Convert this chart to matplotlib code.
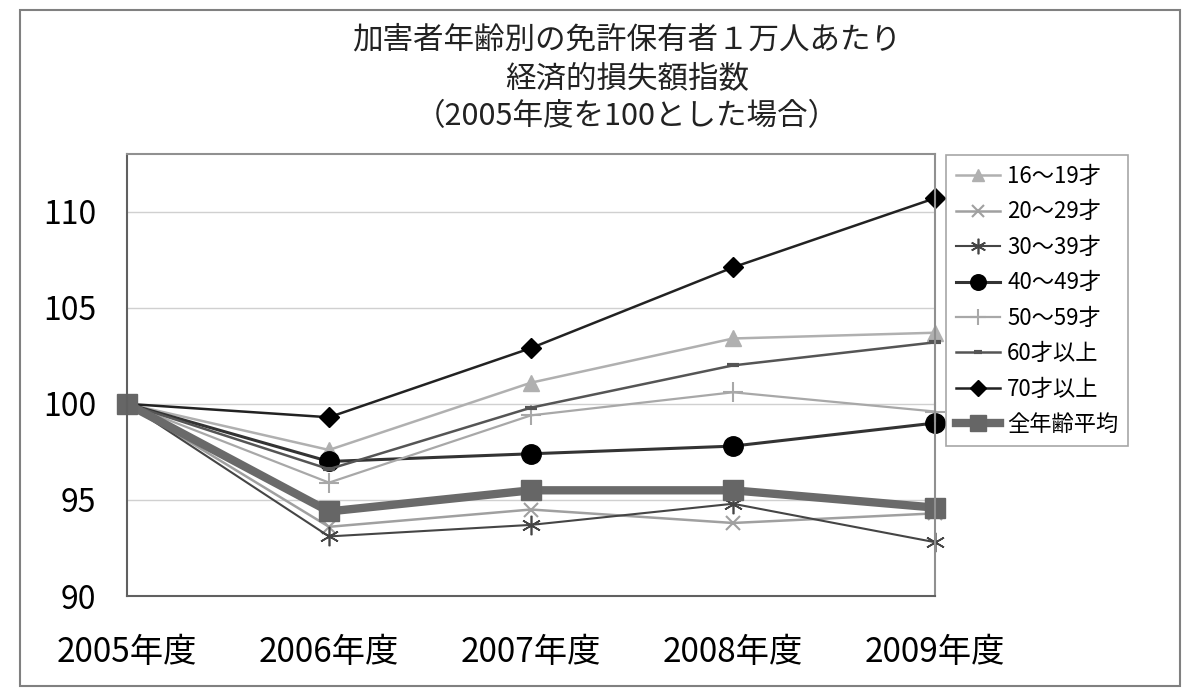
import matplotlib
matplotlib.use("Agg")
import matplotlib.pyplot as plt
from matplotlib.patches import Rectangle

plt.rcParams['font.family'] = ['Noto Sans CJK JP', 'DejaVu Sans']

years = ["2005年度", "2006年度", "2007年度", "2008年度", "2009年度"]
s16_19 = [100, 97.6, 101.1, 103.4, 103.7]
s20_29 = [100, 93.6, 94.5, 93.8, 94.3]
s30_39 = [100, 93.1, 93.7, 94.8, 92.8]
s40_49 = [100, 97.0, 97.4, 97.8, 99.0]
s50_59 = [100, 95.9, 99.4, 100.6, 99.6]
s60_up = [100, 96.6, 99.8, 102.0, 103.2]
s70_up = [100, 99.3, 102.9, 107.1, 110.7]
s_avg = [100, 94.4, 95.5, 95.5, 94.6]

labels = ["16～19才", "20～29才", "30～39才", "40～49才", "50～59才", "60才以上", "70才以上", "全年齢平均"]
title = "加害者年齢別の免許保有者１万人あたり\n経済的損失額指数\n（2005年度を100とした場合）"

fig = plt.figure(figsize=(12, 6.98), dpi=100)
fig.patches.append(Rectangle((20/1200, 1-686/698), 1160/1200, 676/698,
                             transform=fig.transFigure, fill=False,
                             edgecolor="#808080", linewidth=1.5))

ax = fig.add_axes([127/1200, 1-596/698, (935-127)/1200, (596-154)/698])
x = list(range(len(years)))

ax.plot(x, s16_19, color="#b0b0b0", lw=1.8, marker="^", ms=11, label=labels[0], clip_on=False)
ax.plot(x, s20_29, color="#a0a0a0", lw=1.8, marker="x", ms=10, mew=1.5, label=labels[1], clip_on=False)
ax.plot(x, s30_39, color="#454545", lw=1.5, marker=(6, 2, 0), ms=14, mew=1.2, label=labels[2], clip_on=False)
ax.plot(x, s40_49, color="#333333", lw=2.2, marker="o", ms=14, mfc="black", mec="black", label=labels[3], clip_on=False)
ax.plot(x, s50_59, color="#a8a8a8", lw=1.6, marker="+", ms=14, mew=1.5, label=labels[4], clip_on=False)
ax.plot(x, s60_up, color="#555555", lw=1.8, marker="_", ms=8, mew=3, label=labels[5], clip_on=False)
ax.plot(x, s70_up, color="#222222", lw=1.8, marker="D", ms=10, mfc="black", mec="black", label=labels[6], clip_on=False)
ax.plot(x, s_avg, color="#6a6a6a", lw=6, marker="s", ms=15, mfc="#666666", mec="#666666", label=labels[7], clip_on=False)

ax.set_xlim(0, 4)
ax.set_ylim(90, 113)
ax.set_yticks([90, 95, 100, 105, 110])
ax.set_xticks(x)
ax.set_xticklabels(years, fontsize=24)
ax.tick_params(axis="y", labelsize=23, length=0, pad=22)
ax.tick_params(axis="x", length=0, pad=28)
for yv in [95, 100, 105, 110]:
    ax.axhline(yv, color="#d0d0d0", lw=1, zorder=0)
for sp in ax.spines.values():
    sp.set_color("#909090")
    sp.set_linewidth(1.5)
ax.spines["left"].set_color("#606060")
ax.spines["bottom"].set_color("#606060")

fig.text(627/1200, 1-25/698, title, ha="center", va="top", fontsize=22,
         linespacing=1.3, color="#222222")

leg = fig.legend(loc="upper left", bbox_to_anchor=(946/1200, 1-155/698),
                 fontsize=16, markerscale=0.8, frameon=True, fancybox=False,
                 edgecolor="#909090", handlelength=2.0, labelspacing=0.56,
                 borderpad=0.45, handletextpad=0.3, borderaxespad=0)
leg.get_frame().set_linewidth(1.2)

fig.savefig("out.png", dpi=100)
